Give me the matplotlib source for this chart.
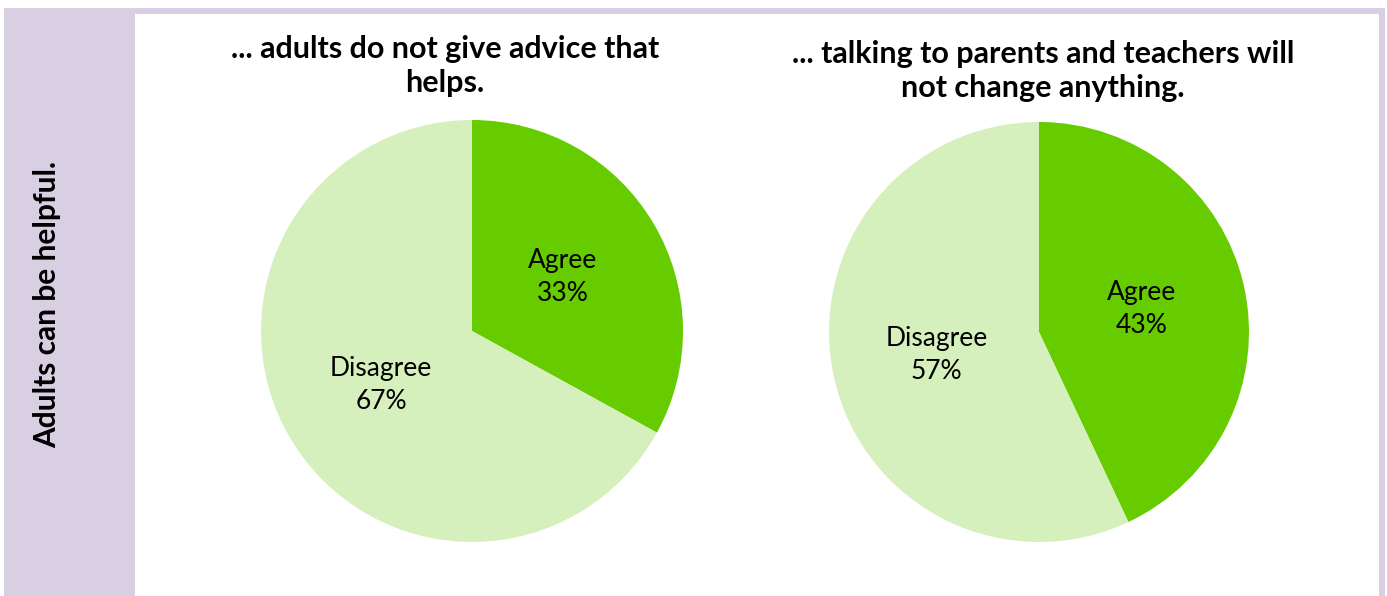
import math
import matplotlib
matplotlib.use("Agg")
import matplotlib.pyplot as plt
from matplotlib.patches import Rectangle

categories = ["Agree", "Disagree"]
left_values = [33, 67]
right_values = [43, 57]
left_title = "... adults do not give advice that\nhelps."
right_title = "... talking to parents and teachers will\nnot change anything."
side_label = "Adults can be helpful."
colors = ["#66CC00", "#D5F0BD"]

W, H = 1387, 596
fig = plt.figure(figsize=(W / 100, H / 100), dpi=100)
plt.rcParams['font.family'] = ['Lato', 'DejaVu Sans']

def fx(x):
    return x / W

def fy(y):
    return 1 - y / H

# background frame
fig.patches.append(Rectangle((fx(4), 0), fx(1385) - fx(4), fy(8), transform=fig.transFigure,
                             facecolor="#D9CFE3", edgecolor="none", zorder=-10))
fig.patches.append(Rectangle((fx(135), 0), fx(1379) - fx(135), fy(14), transform=fig.transFigure,
                             facecolor="white", edgecolor="none", zorder=-9))

fig.text(fx(47), fy(305), side_label, rotation=90, ha="center", va="center",
         fontsize=21.5, fontweight="bold", color="black")

def draw_pie(cx, cy, r, values):
    ax = fig.add_axes([fx(cx - r), fy(cy + r), fx(2 * r), (2 * r) / H])
    ax.pie(values, colors=colors, startangle=90, counterclock=False,
           radius=1.0, wedgeprops=dict(linewidth=0))
    total = sum(values)
    ang = 90.0
    for cat, v in zip(categories, values):
        span = 360.0 * v / total
        mid = math.radians(ang - span / 2)
        ang -= span
        ax.text(0.5 * math.cos(mid), 0.5 * math.sin(mid), f"{cat}\n{v}%",
                ha="center", va="center", fontsize=19, color="black", linespacing=1.4)
    ax.set_xlim(-1, 1)
    ax.set_ylim(-1, 1)
    ax.set_aspect("equal")
    ax.axis("off")
    return ax

draw_pie(472, 331, 211, left_values)
draw_pie(1039, 332, 210, right_values)

fig.text(fx(445), fy(66), left_title, ha="center", va="center", fontsize=22,
         fontweight="bold", linespacing=1.3)
fig.text(fx(1043), fy(71), right_title, ha="center", va="center", fontsize=22,
         fontweight="bold", linespacing=1.3)

fig.savefig("out.png", dpi=100)
